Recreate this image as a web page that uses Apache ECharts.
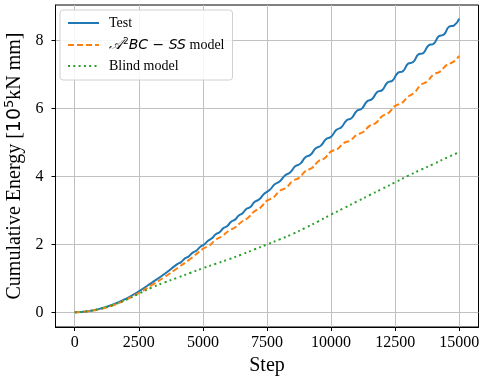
<!DOCTYPE html>
<html><head><meta charset="utf-8">
<script src="https://cdn.jsdelivr.net/npm/echarts@6/dist/echarts.min.js"></script>
<style>html,body{margin:0;padding:0;background:#fff}#c{width:481px;height:380px}</style>
</head><body><div id="c"></div>
<script>
// ---- data ----
const testSteps=[0,500,1000,1500,2000,2500,3000,3500,4000,4150,4300,4450,4600,4750,4900,5050,5200,5350,5500,5650,5800,5950,6100,6250,6400,6550,6700,6850,7000,7200,7400,7600,7800,8000,8200,8400,8600,8800,9000,9200,9400,9600,9800,10000,10200,10400,10600,10800,11000,11200,11400,11600,11800,12000,12200,12400,12600,12800,13000,13200,13400,13600,13800,14000,14200,14400,14600,14800,15000];
const testEnergy=[0,0.03,0.11,0.23,0.40,0.62,0.87,1.13,1.42,1.48,1.59,1.65,1.76,1.82,1.93,2.00,2.11,2.18,2.30,2.36,2.48,2.54,2.67,2.73,2.85,2.92,3.05,3.10,3.24,3.33,3.50,3.60,3.77,3.86,4.03,4.12,4.30,4.38,4.57,4.64,4.83,4.91,5.10,5.17,5.37,5.45,5.65,5.72,5.93,6.00,6.21,6.28,6.49,6.55,6.77,6.83,7.05,7.10,7.32,7.37,7.59,7.64,7.86,7.91,8.13,8.18,8.41,8.45,8.65];
const modelSteps=[0,500,1000,1500,2000,2500,3000,3500,4000,4500,5000,5250,5500,5750,6000,6250,6500,6750,7000,7250,7500,7750,8000,8250,8500,8750,9000,9250,9500,9750,10000,10250,10500,10750,11000,11250,11500,11750,12000,12250,12500,12750,13000,13250,13500,13750,14000,14250,14500,14750,15000];
const modelEnergy=[0,0.03,0.10,0.21,0.37,0.57,0.80,1.04,1.30,1.57,1.87,1.97,2.14,2.24,2.40,2.50,2.66,2.78,2.97,3.09,3.29,3.38,3.58,3.67,3.87,3.96,4.16,4.25,4.45,4.54,4.74,4.81,4.99,5.06,5.23,5.31,5.49,5.58,5.78,5.88,6.08,6.16,6.35,6.47,6.70,6.80,7.01,7.09,7.28,7.37,7.55];
const blindSteps=[0,500,1000,1500,2000,2500,3000,3500,4000,4500,5000,5500,6000,6500,7000,7500,8000,8500,9000,9500,10000,10500,11000,11500,12000,12500,13000,13500,14000,14500,15000];
const blindEnergy=[0,0.03,0.11,0.22,0.37,0.55,0.73,0.88,1.02,1.16,1.30,1.43,1.56,1.70,1.85,2.00,2.15,2.31,2.49,2.68,2.88,3.07,3.26,3.45,3.64,3.83,4.02,4.20,4.37,4.55,4.72];
const seriesNames=['Test','A2BC-SS model','Blind model'];
const xTicks=[0,2500,5000,7500,10000,12500,15000];
const yTicks=[0,2,4,6,8];

const serif='"Liberation Serif","Times New Roman",serif';
const sans='"DejaVu Sans",sans-serif';
function pairs(xs,ys){return xs.map((x,i)=>[x,ys[i]]);}
const chart=echarts.init(document.getElementById('c'),null,{renderer:'canvas'});
const option={
  animation:false,
  grid:{left:55.5,right:2.5,top:5,bottom:53,containLabel:false,outerBoundsMode:'none',show:true,borderColor:'#000',borderWidth:1,backgroundColor:'transparent'},
  xAxis:{type:'value',min:-750,max:15750,
    axisLine:{show:true,onZero:false,lineStyle:{color:'#000',width:1}},
    axisTick:{show:true,customValues:xTicks,length:4,lineStyle:{color:'#000',width:1}},
    axisLabel:{customValues:xTicks,formatter:function(v){return String(v);},color:'#000',fontFamily:serif,fontSize:16,margin:8},
    splitLine:{show:true,lineStyle:{color:'#c0c0c0',width:1}},
    name:'Step',nameLocation:'middle',nameGap:27,
    nameTextStyle:{color:'#000',fontFamily:serif,fontSize:20}},
  yAxis:{type:'value',min:-0.431,max:9.051,
    axisLine:{show:true,onZero:false,lineStyle:{color:'#000',width:1}},
    axisTick:{show:true,customValues:yTicks,length:4,lineStyle:{color:'#000',width:1}},
    axisLabel:{customValues:yTicks,formatter:function(v){return String(v);},color:'#000',fontFamily:serif,fontSize:16,margin:12},
    splitLine:{show:true,lineStyle:{color:'#c0c0c0',width:1}},
    name:'{n|Cumulative Energy [}{s|10}{sup|5}{n|kN mm]}',nameLocation:'middle',nameGap:21,nameRotate:90,
    nameTextStyle:{color:'#000',fontFamily:serif,fontSize:20,
      rich:{n:{fontFamily:serif,fontSize:20,color:'#000'},
            s:{fontFamily:sans,fontSize:19,color:'#000'},
            sup:{fontFamily:sans,fontSize:13,color:'#000',padding:[0,0,9,0]}}}},
  legend:{orient:'vertical',left:60,top:10,padding:[6,8,7,7],itemGap:7,itemWidth:31,itemHeight:14,
    backgroundColor:'rgba(255,255,255,0.85)',borderColor:'#d0d0d0',borderWidth:1,borderRadius:3,
    itemStyle:{opacity:0},
    data:seriesNames,
    formatter:function(n){return n===seriesNames[1]?'{cal|𝒜}{sup|2}{it|BC − SS}{t| model}':n;},
    textStyle:{color:'#000',fontFamily:serif,fontSize:14,padding:[0,0,0,5],
      rich:{cal:{fontFamily:sans,fontSize:14,color:'#000',fontStyle:'italic'},
            sup:{fontFamily:sans,fontSize:9,color:'#000',padding:[0,0,7,1]},
            it:{fontFamily:sans,fontSize:14,fontStyle:'italic',color:'#000'},
            t:{fontFamily:serif,fontSize:14,color:'#000'}}}},
  series:[
    {name:seriesNames[0],type:'line',data:pairs(testSteps,testEnergy),symbol:'none',smooth:0.5,
     lineStyle:{color:'#1f77b4',width:2,type:'solid'},itemStyle:{color:'#1f77b4'}},
    {name:seriesNames[1],type:'line',data:pairs(modelSteps,modelEnergy),symbol:'none',smooth:0.4,
     lineStyle:{color:'#ff7f0e',width:2,type:[6,3]},itemStyle:{color:'#ff7f0e'}},
    {name:seriesNames[2],type:'line',data:pairs(blindSteps,blindEnergy),symbol:'none',smooth:0.4,
     lineStyle:{color:'#2ca02c',width:2,type:[2,3.3]},itemStyle:{color:'#2ca02c'}}
  ]
};
chart.setOption(option);
</script></body></html>
